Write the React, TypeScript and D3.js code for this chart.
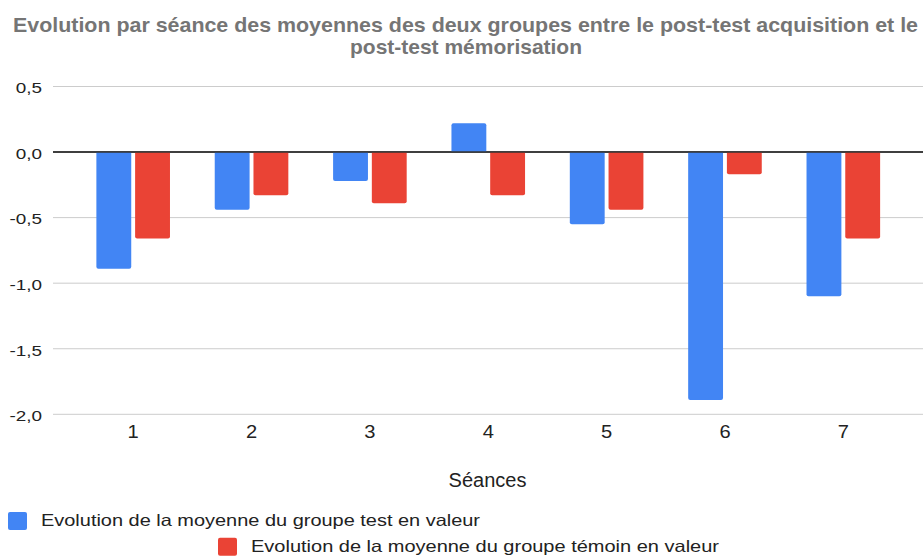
import React from "react";
import * as d3 from "d3";

const categories = ["1", "2", "3", "4", "5", "6", "7"];
const seriesNames = [
  "Evolution de la moyenne du groupe test en valeur",
  "Evolution de la moyenne du groupe témoin en valeur",
];
const testValues = [-0.89, -0.44, -0.22, 0.22, -0.55, -1.89, -1.1];
const temoinValues = [-0.66, -0.33, -0.39, -0.33, -0.44, -0.17, -0.66];
const yTicks = [0.5, 0, -0.5, -1.0, -1.5, -2.0];
const colors = ["#4285F4", "#EA4335"];

const W = 923;
const H = 557;

function SText(props: { x: number; y: number; sx?: number; anchor?: string; size: number; fill?: string; weight?: string; children: React.ReactNode }) {
  const { x, y, sx = 1, anchor = "start", size, fill = "#222", weight = "normal", children } = props;
  return (
    <text transform={`translate(${x},${y}) scale(${sx},1)`} textAnchor={anchor} fontSize={size} fill={fill} fontWeight={weight}>
      {children}
    </text>
  );
}

export default function App() {
  const y = d3.scaleLinear().domain([-2.0, 0.5]).range([414.3, 86.5]);
  const x = d3.scaleBand().domain(categories).range([74, 902.5]).paddingInner(0).paddingOuter(0);
  const inner = d3.scaleBand().domain(["0", "1"]).range([-36.8, 36.8]).paddingInner(0.1);
  const fmt = (v: number) => d3.format(".1f")(v).replace(".", ",").replace("−", "-");
  const series = [testValues, temoinValues];

  const barPath = (x0: number, w: number, v: number) => {
    const y0 = y(0);
    const y1 = y(v);
    const r = Math.min(2, Math.abs(y1 - y0));
    const dir = v >= 0 ? -1 : 1;
    const p = d3.path();
    p.moveTo(x0, y0);
    p.lineTo(x0, y1 - dir * r);
    p.quadraticCurveTo(x0, y1, x0 + r, y1);
    p.lineTo(x0 + w - r, y1);
    p.quadraticCurveTo(x0 + w, y1, x0 + w, y1 - dir * r);
    p.lineTo(x0 + w, y0);
    p.closePath();
    return p.toString();
  };

  return (
    <svg width={W} height={H} style={{ position: "absolute", left: 0, top: 0, background: "#fff" }}
      fontFamily="'Liberation Sans', Arial, sans-serif">
      <text x={465.5} y={32} textAnchor="middle" fontSize={21} fontWeight="bold" fill="#757575"
        textLength={905} lengthAdjust="spacingAndGlyphs">
        Evolution par séance des moyennes des deux groupes entre le post-test acquisition et le
      </text>
      <text x={466} y={53.5} textAnchor="middle" fontSize={21} fontWeight="bold" fill="#757575"
        textLength={232} lengthAdjust="spacingAndGlyphs">
        post-test mémorisation
      </text>
      {yTicks.map((t) => (
        <g key={t}>
          <line x1={53} x2={923} y1={y(t)} y2={y(t)} stroke={t === 0 ? "#333" : "#ccc"} strokeWidth={t === 0 ? 1.5 : 1} />
          <SText x={42} y={y(t) + 6.8} sx={1.22} anchor="end" size={15.5}>
            {fmt(t)}
          </SText>
        </g>
      ))}
      {categories.map((c, i) => (
        <g key={c}>
          {series.map((s, k) => {
            const cx = x(c)! + x.bandwidth() / 2;
            const x0 = cx + inner(String(k))!;
            return <path key={k} d={barPath(x0, inner.bandwidth(), s[i])} fill={colors[k]} />;
          })}
          <SText x={x(c)! + x.bandwidth() / 2} y={438.3} sx={1.15} anchor="middle" size={17.5}>
            {c}
          </SText>
        </g>
      ))}
      <line x1={53} x2={923} y1={y(0)} y2={y(0)} stroke="#333" strokeWidth={1.5} />
      <text x={487.5} y={486.7} textAnchor="middle" fontSize={20} fill="#222">Séances</text>
      <rect x={8} y={512} width={19} height={18} rx={2} fill={colors[0]} />
      <text x={41} y={526} fontSize={16.5} fill="#222" textLength={439} lengthAdjust="spacingAndGlyphs">{seriesNames[0]}</text>
      <rect x={218} y={537.7} width={19} height={18} rx={2} fill={colors[1]} />
      <text x={251} y={552} fontSize={16.5} fill="#222" textLength={468} lengthAdjust="spacingAndGlyphs">{seriesNames[1]}</text>
    </svg>
  );
}
